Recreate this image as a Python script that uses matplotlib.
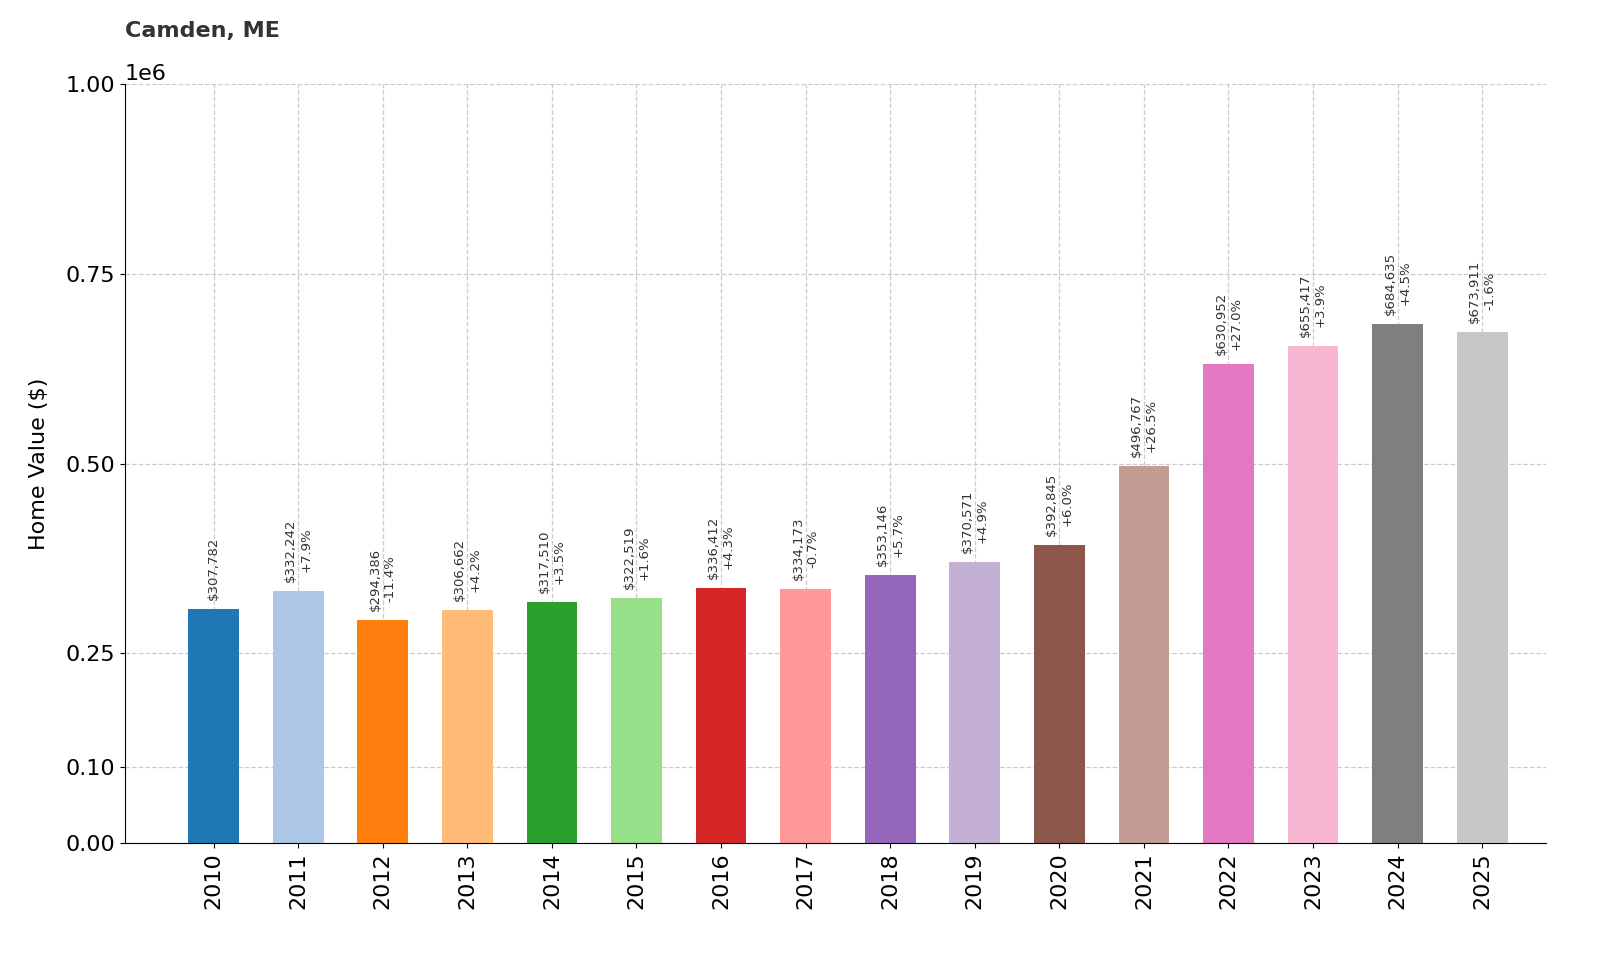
import matplotlib
matplotlib.use("Agg")
import matplotlib.pyplot as plt

years = [str(y) for y in range(2010, 2026)]
values = [307782, 332242, 294386, 306662, 317510, 322519, 336412, 334173,
          353146, 370571, 392845, 496767, 630952, 655417, 684635, 673911]
changes = [None, "+7.9%", "-11.4%", "+4.2%", "+3.5%", "+1.6%", "+4.3%", "-0.7%",
           "+5.7%", "+4.9%", "+6.0%", "+26.5%", "+27.0%", "+3.9%", "+4.5%", "-1.6%"]
yticks = [0, 100000, 250000, 500000, 750000, 1000000]

colors = plt.get_cmap("tab20").colors

fig = plt.figure(figsize=(16, 9.6), dpi=100)
ax = fig.add_axes([0.078, 0.122, 0.888, 0.79])
x = list(range(len(years)))
ax.bar(x, values, width=0.6, color=[colors[i % 20] for i in x], zorder=2)
for i, v in enumerate(values):
    label = f"${v:,}" if changes[i] is None else f"${v:,}\n{changes[i]}"
    ax.text(i, v + 12000, label, rotation=90, ha="center", va="bottom",
            fontsize=9.5, color="#333333", zorder=3)
ax.set_xticks(x)
ax.set_xticklabels(years, rotation=90, fontsize=16)
ax.set_yticks(yticks)
ax.tick_params(axis="y", labelsize=16)
ax.yaxis.get_offset_text().set_fontsize(16)
ax.set_ylim(0, 1000000)
ax.set_xlim(-1.05, 15.75)
ax.set_ylabel("Home Value ($)", fontsize=16, labelpad=12)
ax.grid(True, linestyle="--", color="#cccccc", linewidth=0.9, zorder=0)
ax.set_axisbelow(True)
for s in ["top", "right"]:
    ax.spines[s].set_visible(False)
ax.set_title("Camden, ME", loc="left", fontsize=16, fontweight="bold",
             color="#333333", pad=34)
fig.savefig("out.png", dpi=100)
